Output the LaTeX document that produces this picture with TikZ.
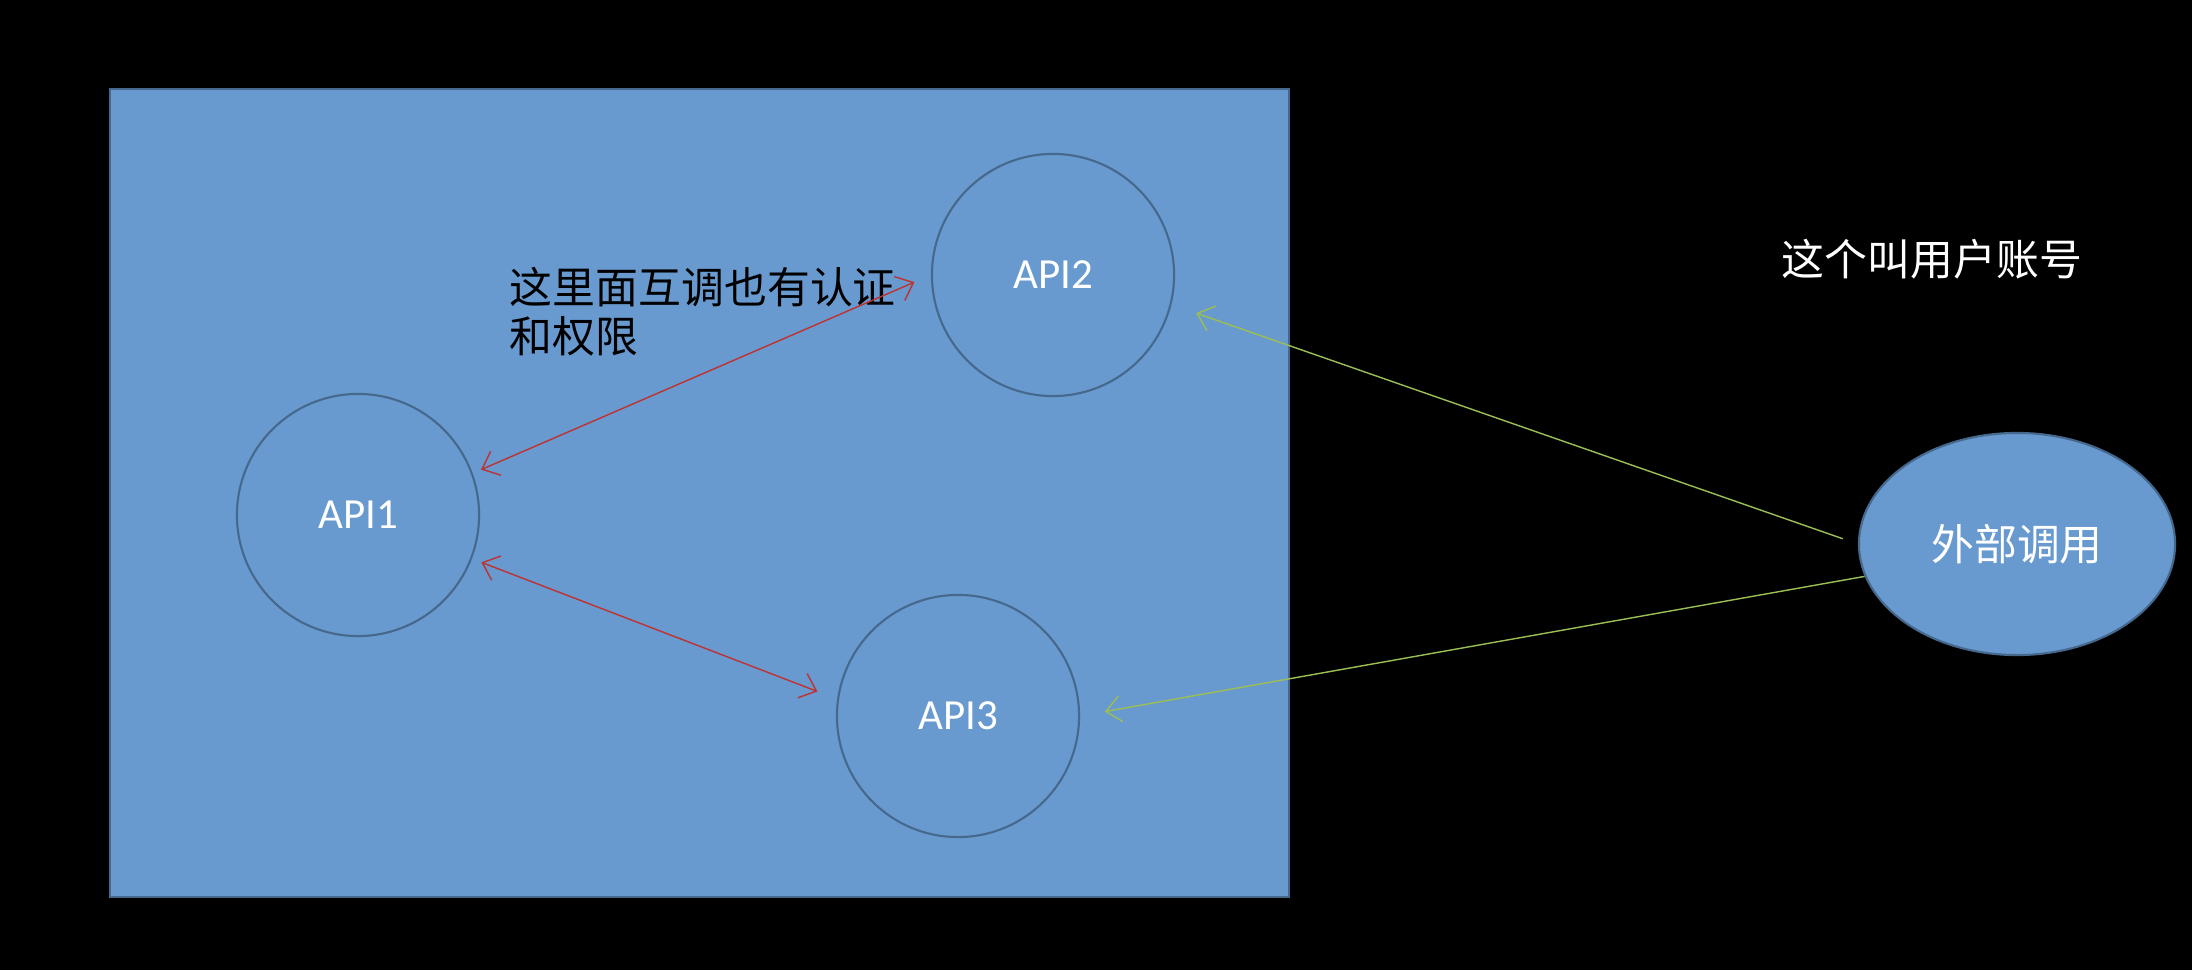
\documentclass[tikz,border=0pt]{standalone}
\usepackage{fontspec}
\setmainfont{Carlito}
\newfontfamily\cjk{Noto Sans CJK SC}
\usepackage{tikz}
\usetikzlibrary{positioning,arrows.meta,shapes.geometric}

\definecolor{boxblue}{RGB}{104,154,207}
\definecolor{rimblue}{RGB}{70,104,140}
\definecolor{callred}{RGB}{190,50,50}
\definecolor{callgreen}{RGB}{155,190,85}

\begin{document}
\begin{tikzpicture}[x=0.01cm,y=-0.01cm]
        \tikzstyle{every node}=[font=\fontsize{12.2}{14}\selectfont]
        \tikzstyle{api}=[circle, draw=rimblue, fill=boxblue, line width=0.6pt, minimum size=2.42cm, text=white]
        \tikzstyle{inner}=[<->, >={Straight Barb[length=1.5mm,width=2.6mm]}, draw=callred, line width=0.4pt]
        \tikzstyle{outer}=[->, >={Straight Barb[length=1.5mm,width=2.6mm]}, draw=callgreen, line width=0.4pt]

        \fill[black] (0,0) rectangle (2192,970);
        \draw[draw=rimblue, fill=boxblue, line width=0.5pt] (110,89) rectangle (1289,897);

        \node[api] (api1) at (358,515) {API1};
        \node[api] (api2) at (1053,275) {API2};
        \node[api] (api3) at (958,716) {API3};
        \node[ellipse, draw=rimblue, fill=boxblue, line width=0.6pt, minimum width=3.16cm, minimum height=2.22cm, text=white] (ext) at (2017,544) {\cjk 外部调用};

        \node (note) [anchor=north west, align=left, inner sep=0pt] at (509,266) {\cjk 这里面互调也有认证\\\cjk 和权限};
        \node (user) [text=white] at (1932,259) {\cjk 这个叫用户账号};

        \draw[inner, shorten <=0.09cm, shorten >=0.18cm] (api1.20) -- (api2.180);
        \draw[inner, shorten <=0.10cm, shorten >=0.21cm] (api1.-21) -- (api3.172);
        \draw[outer, shorten <=0.16cm, shorten >=0.26cm] (ext.180) -- (api2.-14);
        \draw[outer, shorten >=0.25cm] (ext.192) -- (api3.0);

\end{tikzpicture}
\end{document}
